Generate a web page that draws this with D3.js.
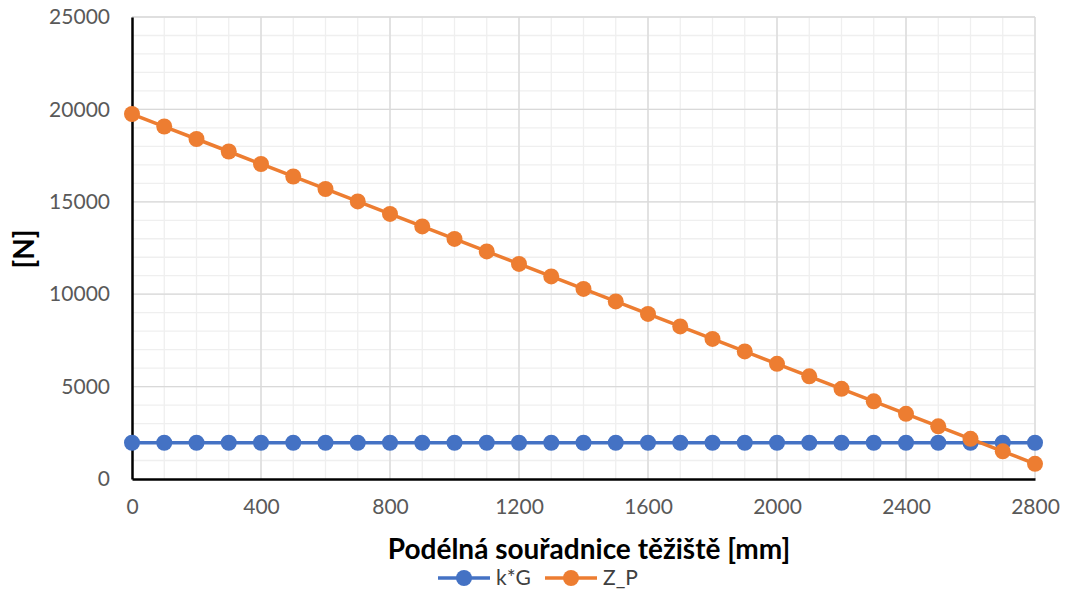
<!DOCTYPE html>
<meta charset="utf-8">
<style>
    body { margin: 0; background: #fff; }
    text { font-family: Lato, "Open Sans", sans-serif; }
    .tick text { fill: #595959; font-size: 21px; }
    .title { font-weight: bold; fill: #000; }
    .legend text { fill: #404040; font-size: 21px; }
</style>
<body>
<script src="https://cdn.jsdelivr.net/npm/d3@7"></script>
<script>

    var xValues = [0, 100, 200, 300, 400, 500, 600, 700, 800, 900, 1000, 1100, 1200, 1300, 1400,
                   1500, 1600, 1700, 1800, 1900, 2000, 2100, 2200, 2300, 2400, 2500, 2600, 2700, 2800];
    var kG = [1962, 1962, 1962, 1962, 1962, 1962, 1962, 1962, 1962, 1962, 1962, 1962, 1962, 1962, 1962,
              1962, 1962, 1962, 1962, 1962, 1962, 1962, 1962, 1962, 1962, 1962, 1962, 1962, 1962];
    var ZP = [19750, 19074, 18398, 17722, 17046, 16370, 15694, 15018, 14342, 13666, 12990, 12314, 11638, 10962, 10286,
              9610, 8934, 8258, 7582, 6906, 6230, 5554, 4878, 4202, 3526, 2850, 2174, 1498, 822];
    var seriesNames = ["k*G", "Z_P"];
    var colors = ["#4472C4", "#ED7D31"];
    var xTicks = [0, 400, 800, 1200, 1600, 2000, 2400, 2800];
    var yTicks = [0, 5000, 10000, 15000, 20000, 25000];

    var margin = {top: 17, right: 31, bottom: 114, left: 132},
        width = 1066 - margin.left - margin.right,
        height = 593 - margin.top - margin.bottom;

    var svg = d3.select("body").append("svg")
        .attr("width", 1066)
        .attr("height", 593);

    var g = svg.append("g")
        .attr("transform", "translate(" + margin.left + "," + margin.top + ")");

    var x = d3.scaleLinear().domain([0, 2800]).range([0, width]);
    var y = d3.scaleLinear().domain([0, 25000]).range([height, 0]);

    // minor grid
    g.append("g").selectAll("line.vminor").data(d3.range(100, 2801, 100)).enter()
        .append("line")
        .attr("x1", x).attr("x2", x).attr("y1", 0).attr("y2", height)
        .attr("stroke", "#efefef").attr("stroke-width", 1.3);
    g.append("g").selectAll("line.hminor").data(d3.range(1000, 25001, 1000)).enter()
        .append("line")
        .attr("y1", y).attr("y2", y).attr("x1", 0).attr("x2", width)
        .attr("stroke", "#efefef").attr("stroke-width", 1.3);

    // major grid
    g.append("g").selectAll("line").data(xTicks.slice(1)).enter()
        .append("line")
        .attr("x1", x).attr("x2", x).attr("y1", 0).attr("y2", height)
        .attr("stroke", "#d9d9d9").attr("stroke-width", 1.3);
    g.append("g").selectAll("line").data(yTicks.slice(1)).enter()
        .append("line")
        .attr("y1", y).attr("y2", y).attr("x1", 0).attr("x2", width)
        .attr("stroke", "#d9d9d9").attr("stroke-width", 1.3);

    // axes
    var xAxis = g.append("g")
        .attr("transform", "translate(0," + height + ")")
        .call(d3.axisBottom(x).tickValues(xTicks).tickSize(0).tickPadding(20).tickFormat(d3.format("d")));
    xAxis.select(".domain").attr("stroke", "#000").attr("stroke-width", 2.5);

    var yAxis = g.append("g")
        .call(d3.axisLeft(y).tickValues(yTicks).tickSize(0).tickPadding(22).tickFormat(d3.format("d")));
    yAxis.select(".domain").attr("stroke", "#000").attr("stroke-width", 2.5);

    // series
    var line = d3.line()
        .x(function(d, i) { return x(xValues[i]); })
        .y(function(d) { return y(d); });

    [kG, ZP].forEach(function(values, s) {
        g.append("path")
            .datum(values)
            .attr("fill", "none")
            .attr("stroke", colors[s])
            .attr("stroke-width", 3.5)
            .attr("d", line);
        g.selectAll("circle.s" + s).data(values).enter()
            .append("circle")
            .attr("class", "s" + s)
            .attr("cx", function(d, i) { return x(xValues[i]); })
            .attr("cy", function(d) { return y(d); })
            .attr("r", 8)
            .attr("fill", colors[s]);
    });

    // titles
    svg.append("text")
        .attr("class", "title")
        .attr("x", 589)
        .attr("y", 559)
        .attr("text-anchor", "middle")
        .attr("font-size", 28)
        .text("Podélná souřadnice těžiště [mm]");

    svg.append("text")
        .attr("class", "title")
        .attr("transform", "translate(34,249) rotate(-90)")
        .attr("text-anchor", "middle")
        .attr("font-size", 28)
        .text("[N]");

    // legend
    var legend = svg.append("g").attr("class", "legend")
        .selectAll("g").data(seriesNames).enter()
        .append("g")
        .attr("transform", function(d, i) { return "translate(" + (438 + i * 107) + ",578)"; });
    legend.append("line")
        .attr("x1", 0).attr("x2", 52)
        .attr("stroke", function(d, i) { return colors[i]; })
        .attr("stroke-width", 3.5);
    legend.append("circle")
        .attr("cx", 26).attr("r", 8)
        .attr("fill", function(d, i) { return colors[i]; });
    legend.append("text")
        .attr("x", 58).attr("dy", "0.35em")
        .text(function(d) { return d; });

</script>
